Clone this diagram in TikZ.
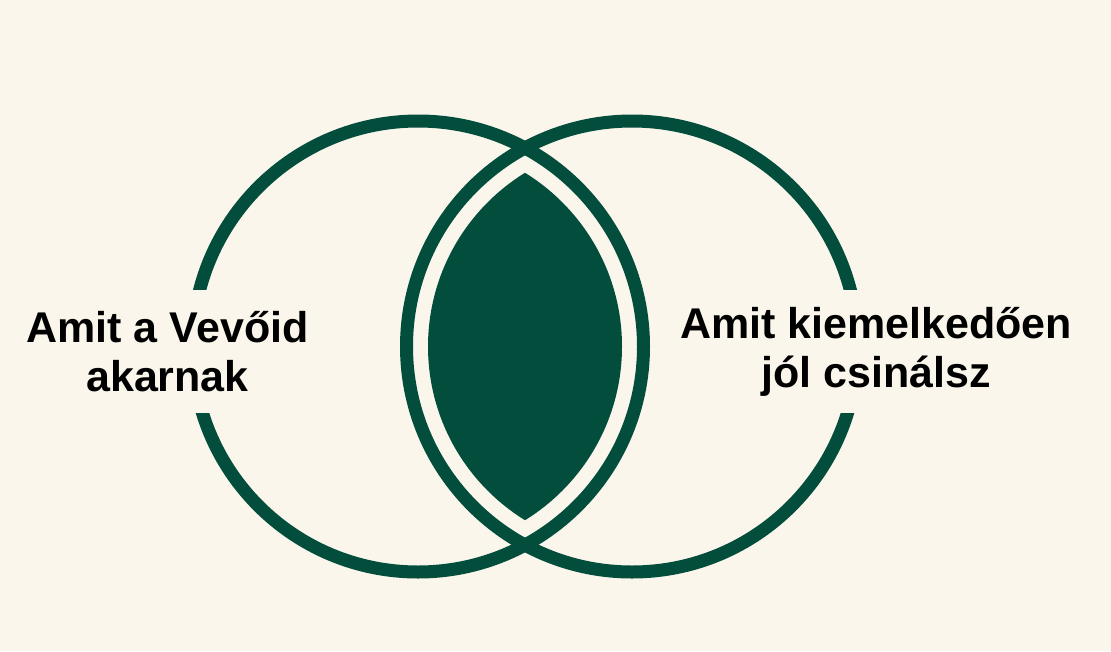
\documentclass[tikz,border=0pt]{standalone}
\usepackage{fontspec}
\setmainfont{Liberation Sans}
\usepackage{xcolor}
\usepackage{tikz}

\definecolor{venngreen}{RGB}{3,77,60}
\definecolor{venncream}{RGB}{250,246,236}

\begin{document}
\begin{tikzpicture}[x=1pt,y=-1pt,
	ring/.style={draw=venngreen,line width=13pt},
	vennlabel/.style={fill=venncream,inner sep=0pt,align=center,
		font=\bfseries\fontsize{43}{49}\selectfont}]
		\fill[venncream] (0,0) rectangle (1111,651);
		\useasboundingbox (0,0) rectangle (1111,651);
		\coordinate (L) at (418,346.5);
		\coordinate (R) at (632,346.5);
		%
		% filled lens
		\begin{scope}
			\clip (L) circle (204);
			\fill[venngreen] (R) circle (204);
		\end{scope}
		% rings
		\draw[ring] (L) circle (225.5);
		\draw[ring] (R) circle (225.5);
		% labels
		\node[vennlabel,minimum width=325,minimum height=123] (A) at (167.5,351.5) {Amit a Vevőid\\akarnak};
		\node[vennlabel,minimum width=440,minimum height=123] (B) at (876,351.5) {Amit kiemelkedően\\jól csinálsz};
	\end{tikzpicture}
\end{document}
